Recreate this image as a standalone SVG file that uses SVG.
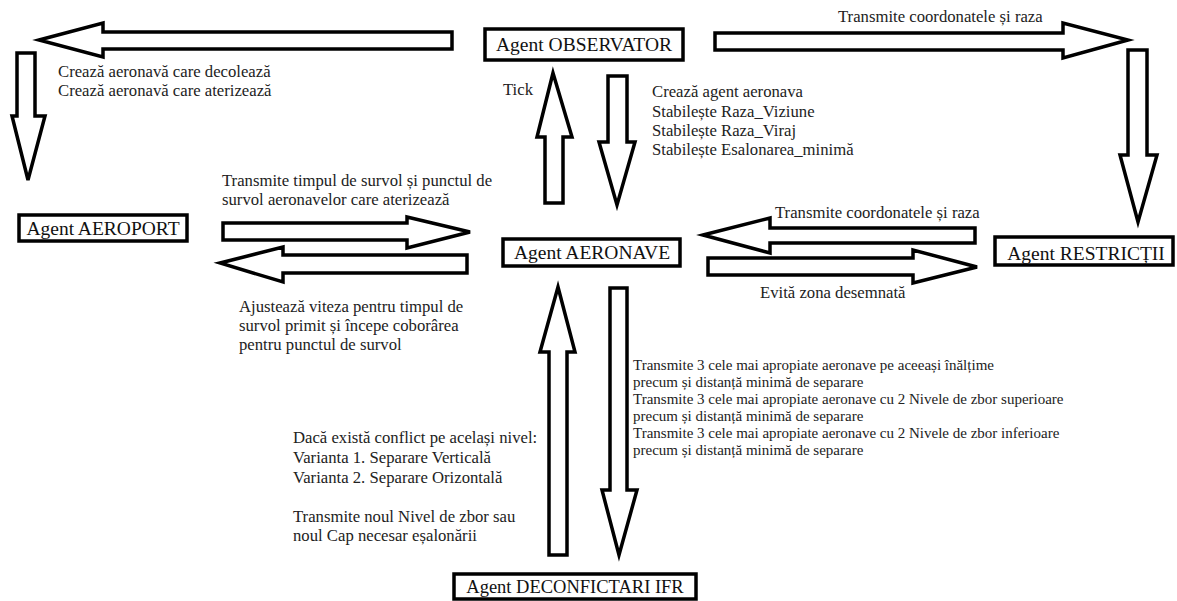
<svg xmlns="http://www.w3.org/2000/svg" width="1177" height="601" viewBox="0 0 1177 601">
<style>
.arrow{fill:#fff;stroke:#000;stroke-width:3.5;stroke-linejoin:miter}
.box{fill:#fff;stroke:#000;stroke-width:3.5}
.node{font-family:"Liberation Serif","Times New Roman",serif;font-size:19.5px;fill:#111;text-anchor:middle}
.lbl{font-family:"Liberation Serif","Times New Roman",serif;font-size:16.7px;fill:#222}
.sm{font-family:"Liberation Serif","Times New Roman",serif;font-size:15px;fill:#222}
</style>
<rect width="1177" height="601" fill="#fff"/>
<g id="connectors">
<polygon class="arrow" points="39,40 103,23 103,32 452,32 452,49 103,49 103,57"/>
<polygon class="arrow" points="17,53 35,53 35,116 45,116 28,180 12,116 17,116"/>
<polygon class="arrow" points="715,33 1063,33 1063,23 1128,40 1063,58 1063,50 715,50"/>
<polygon class="arrow" points="1128,50 1147,50 1147,155 1157,155 1138,222 1120,155 1128,155"/>
<polygon class="arrow" points="553,73 572,137 563,137 563,203 545,203 545,137 537,137"/>
<polygon class="arrow" points="608,76 627,76 627,142 635,142 617,205 599,142 608,142"/>
<polygon class="arrow" points="223,223 407,223 407,217 470,232 407,248 407,240 223,240"/>
<polygon class="arrow" points="220,263 283,247 283,255 467,255 467,273 283,273 283,282"/>
<polygon class="arrow" points="703,235 770,218 770,228 975,228 975,243 770,243 770,253"/>
<polygon class="arrow" points="708,258 913,258 913,250 977,267 913,283 913,275 708,275"/>
<polygon class="arrow" points="558,287 575,352 567,352 567,555 549,555 549,352 540,352"/>
<polygon class="arrow" points="610,288 627,288 627,490 637,490 619,555 602,490 610,490"/>
<text class="lbl" x="58" y="77">Crează aeronavă care decolează</text>
<text class="lbl" x="58" y="96">Crează aeronavă care aterizează</text>
<text class="lbl" x="838" y="22">Transmite coordonatele și raza</text>
<text class="lbl" x="503" y="95">Tick</text>
<text class="lbl" x="652" y="97">Crează agent aeronava</text>
<text class="lbl" x="652" y="117">Stabilește Raza_Viziune</text>
<text class="lbl" x="652" y="136">Stabilește Raza_Viraj</text>
<text class="lbl" x="652" y="155">Stabilește Esalonarea_minimă</text>
<text class="lbl" x="222" y="186">Transmite timpul de survol și punctul de</text>
<text class="lbl" x="222" y="205">survol aeronavelor care aterizează</text>
<text class="lbl" x="775" y="218">Transmite coordonatele și raza</text>
<text class="lbl" x="760" y="298">Evită zona desemnată</text>
<text class="lbl" x="239" y="312">Ajustează viteza pentru timpul de</text>
<text class="lbl" x="239" y="331">survol primit și începe coborârea</text>
<text class="lbl" x="239" y="350">pentru punctul de survol</text>
<text class="sm" x="633" y="370">Transmite 3 cele mai apropiate aeronave pe aceeași înălțime</text>
<text class="sm" x="633" y="387">precum și distanță minimă de separare</text>
<text class="sm" x="633" y="404">Transmite 3 cele mai apropiate aeronave cu 2 Nivele de zbor superioare</text>
<text class="sm" x="633" y="421">precum și distanță minimă de separare</text>
<text class="sm" x="633" y="438">Transmite 3 cele mai apropiate aeronave cu 2 Nivele de zbor inferioare</text>
<text class="sm" x="633" y="455">precum și distanță minimă de separare</text>
<text class="lbl" x="293" y="443">Dacă există conflict pe același nivel:</text>
<text class="lbl" x="293" y="463">Varianta 1. Separare Verticală</text>
<text class="lbl" x="293" y="483">Varianta 2. Separare Orizontală</text>
<text class="lbl" x="293" y="522">Transmite noul Nivel de zbor sau</text>
<text class="lbl" x="293" y="541">noul Cap necesar eșalonării</text>
</g>
<g id="observator">
<rect class="box" x="485" y="29" width="198" height="31"/>
<text class="node" x="584" y="51">Agent OBSERVATOR</text>
</g>
<g id="aeroport">
<rect class="box" x="19" y="215" width="168" height="26"/>
<text class="node" x="103" y="235">Agent AEROPORT</text>
</g>
<g id="aeronave">
<rect class="box" x="503" y="239" width="177" height="27"/>
<text class="node" x="592" y="259">Agent AERONAVE</text>
</g>
<g id="restrictii">
<rect class="box" x="995" y="237" width="178" height="28"/>
<text class="node" x="1086" y="260">Agent RESTRICȚII</text>
</g>
<g id="deconflictari">
<rect class="box" x="454" y="574" width="242" height="25"/>
<text class="node" x="575" y="593" style="font-size:18.5px">Agent DECONFICTARI IFR</text>
</g>
</svg>
